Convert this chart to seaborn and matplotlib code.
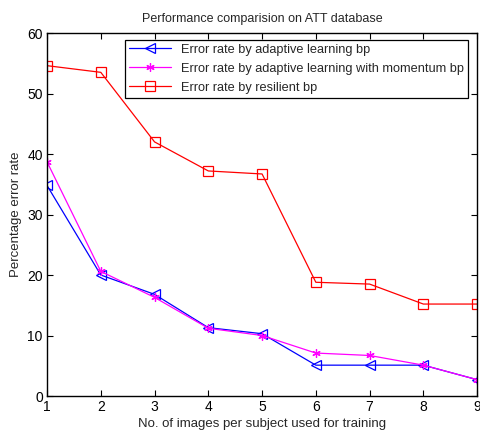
import numpy as np
import pandas as pd
import matplotlib
matplotlib.use("Agg")
import matplotlib.pyplot as plt
import seaborn as sns

# ---------- Data ----------
images_per_subject = [1, 2, 3, 4, 5, 6, 7, 8, 9]
adaptive_bp = [34.8, 20.0, 16.8, 11.3, 10.3, 5.1, 5.1, 5.1, 2.7]
adaptive_momentum_bp = [38.7, 20.6, 16.3, 11.2, 10.0, 7.1, 6.7, 5.1, 2.7]
resilient_bp = [54.6, 53.5, 42.0, 37.2, 36.7, 18.8, 18.5, 15.2, 15.2]

series_names = [
    "Error rate by adaptive learning bp",
    "Error rate by adaptive learning with momentum bp",
    "Error rate by resilient bp",
]

df = pd.DataFrame({
    "images": images_per_subject * 3,
    "error": adaptive_bp + adaptive_momentum_bp + resilient_bp,
    "method": np.repeat(series_names, len(images_per_subject)),
})

# ---------- Style ----------
sns.set_style("ticks")
plt.rcParams["font.family"] = ["Liberation Sans", "DejaVu Sans"]
plt.rcParams["font.size"] = 9

fig = plt.figure(figsize=(4.8, 4.32), dpi=100)
ax = fig.add_axes([0.098, 0.0833, 0.896, 0.8403])

styles = {
    series_names[0]: dict(color="#0000ff", marker="<", ms=7, mfc="none"),
    series_names[1]: dict(color="#ff00ff", marker=(6, 2, 0), ms=6, mfc="none"),
    series_names[2]: dict(color="#ff0000", marker="s", ms=6.5, mfc="none"),
}

for name in series_names:
    sub = df[df["method"] == name]
    st = styles[name]
    sns.lineplot(
        data=sub, x="images", y="error", ax=ax, label=name,
        color=st["color"], marker=st["marker"], markersize=st["ms"],
        markerfacecolor=st["mfc"], markeredgecolor=st["color"],
        markeredgewidth=0.9, linewidth=0.9,
    )

ax.set_xlim(1, 9)
ax.set_ylim(0, 60)
ax.set_xticks(images_per_subject)
ax.set_yticks(range(0, 61, 10))
ax.tick_params(direction="in", top=True, right=True, length=4, width=0.8,
               labelsize=10, colors="black", pad=3)
for sp in ax.spines.values():
    sp.set_visible(True)
    sp.set_color("black")
    sp.set_linewidth(1.0)

ax.set_title("Performance comparision on ATT database", fontsize=9, pad=8)
ax.set_xlabel("No. of images per subject used for training", fontsize=9.5, labelpad=3)
ax.set_ylabel("Percentage error rate", fontsize=9.5, labelpad=4)

leg = ax.legend(loc="upper right", bbox_to_anchor=(0.979, 0.981), fancybox=False,
                edgecolor="black", framealpha=1, fontsize=9.2, borderpad=0.3,
                handlelength=3.3, labelspacing=0.55, borderaxespad=0)
leg.get_frame().set_linewidth(0.9)

fig.savefig("out.png", dpi=100)
